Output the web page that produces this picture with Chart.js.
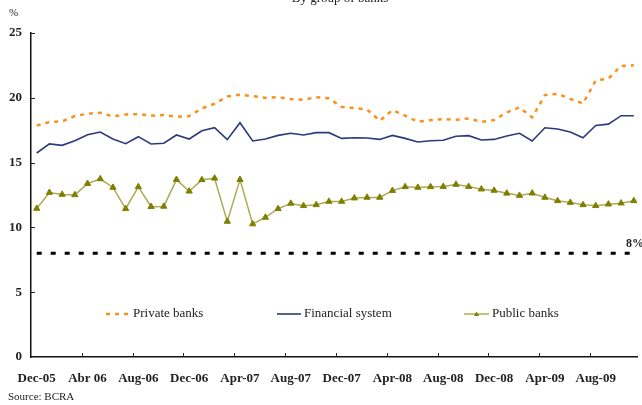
<!DOCTYPE html>
<html><head><meta charset="utf-8">
<script src="https://cdn.jsdelivr.net/npm/chart.js@4.4.1/dist/chart.umd.min.js"></script>
<style>html,body{margin:0;padding:0;background:#fff;overflow:hidden}#wrap{position:relative;width:642px;height:405px}</style>
</head><body><div id="wrap"><canvas id="c" width="642" height="405"></canvas></div>
<script>
// Monthly observations, Dec-05 .. Nov-09
const months = ['Dec-05','Jan-06','Feb-06','Mar-06','Apr-06','May-06','Jun-06','Jul-06','Aug-06','Sep-06','Oct-06','Nov-06',
  'Dec-06','Jan-07','Feb-07','Mar-07','Apr-07','May-07','Jun-07','Jul-07','Aug-07','Sep-07','Oct-07','Nov-07',
  'Dec-07','Jan-08','Feb-08','Mar-08','Apr-08','May-08','Jun-08','Jul-08','Aug-08','Sep-08','Oct-08','Nov-08',
  'Dec-08','Jan-09','Feb-09','Mar-09','Apr-09','May-09','Jun-09','Jul-09','Aug-09','Sep-09','Oct-09','Nov-09'];
const tickLabels = ['Dec-05','Abr 06','Aug-06','Dec-06','Apr-07','Aug-07','Dec-07','Apr-08','Aug-08','Dec-08','Apr-09','Aug-09'];
const tickIndex = [0,4,8,12,16,20,24,28,32,36,40,44];
const yTicks = [0,5,10,15,20,25];

const privateBanks = [17.85,18.13,18.18,18.59,18.77,18.85,18.56,18.72,18.74,18.62,18.67,18.54,
  18.59,19.18,19.54,20.10,20.23,20.13,20.00,20.05,19.90,19.85,20.05,19.95,
  19.30,19.20,19.10,18.23,19.05,18.62,18.15,18.28,18.36,18.30,18.41,18.15,
  18.28,18.87,19.26,18.49,20.21,20.31,19.92,19.56,21.33,21.49,22.46,22.51];
const financialSystem = [15.74,16.44,16.33,16.69,17.15,17.36,16.82,16.46,17.00,16.44,16.49,17.13,
  16.82,17.46,17.69,16.77,18.08,16.67,16.82,17.10,17.26,17.13,17.31,17.31,
  16.87,16.92,16.90,16.79,17.10,16.87,16.59,16.69,16.72,17.03,17.08,16.74,
  16.79,17.05,17.26,16.67,17.69,17.59,17.36,16.92,17.87,17.97,18.62,18.62];
const publicBanks = [11.46,12.69,12.54,12.51,13.38,13.74,13.08,11.44,13.13,11.60,11.62,13.69,
  12.79,13.67,13.79,10.46,13.69,10.26,10.77,11.44,11.85,11.67,11.74,12.00,
  12.00,12.26,12.31,12.31,12.84,13.13,13.08,13.13,13.15,13.31,13.15,12.95,
  12.85,12.63,12.46,12.64,12.31,12.05,11.92,11.74,11.67,11.79,11.87,12.05];
const minimumLevel = 8;

const SERIF = '"Liberation Serif", "Times New Roman", serif';
const pts = arr => arr.map((v,i)=>({x:i,y:v}));

const decor = {
  id:'decor',
  afterDraw(chart){
    const {ctx, chartArea:ca, scales:{x,y}} = chart;
    ctx.save();
    // inside tick marks
    ctx.strokeStyle='#222'; ctx.lineWidth=1;
    yTicks.forEach(v=>{ if(v===0) return; const py=Math.round(y.getPixelForValue(v))+0.5;
      ctx.beginPath(); ctx.moveTo(ca.left,py); ctx.lineTo(ca.left+4,py); ctx.stroke(); });
    tickIndex.forEach((v,k)=>{ if(k===0) return; const px=Math.round(x.getPixelForValue(v-0.45))+0.5;
      ctx.beginPath(); ctx.moveTo(px,ca.bottom); ctx.lineTo(px,ca.bottom-4); ctx.stroke(); });
    // texts
    ctx.fillStyle='#222';
    ctx.font='13px '+SERIF; ctx.textAlign='center'; ctx.textBaseline='alphabetic';
    ctx.fillText('By group of banks',340,2);
    ctx.textAlign='left'; ctx.textBaseline='middle';
    ctx.font='11px '+SERIF; ctx.fillText('%',9,13);
    ctx.font='bold 12px '+SERIF; ctx.fillText('8%',626,244);
    ctx.font='11px '+SERIF; ctx.fillText('Source: BCRA',8,397);
    // legend
    const ly=314;
    const ds=chart.data.datasets;
    const items=[{d:ds[0],x0:106,x1:128,tx:133},{d:ds[1],x0:277,x1:301,tx:304},{d:ds[2],x0:464,x1:489,tx:492}];
    items.forEach(it=>{
      ctx.save();
      ctx.strokeStyle=it.d.borderColor; ctx.lineWidth=it.d.borderWidth;
      ctx.setLineDash(it.d.borderDash||[]);
      ctx.beginPath(); ctx.moveTo(it.x0,ly); ctx.lineTo(it.x1,ly); ctx.stroke();
      ctx.restore();
      if(it.d.pointStyle==='triangle'){
        const cx=(it.x0+it.x1)/2, r=2.6;
        ctx.fillStyle=it.d.pointBackgroundColor;
        ctx.beginPath(); ctx.moveTo(cx,ly-r); ctx.lineTo(cx+r,ly+r*0.75); ctx.lineTo(cx-r,ly+r*0.75); ctx.closePath(); ctx.fill();
      }
      ctx.fillStyle='#222'; ctx.font='13px '+SERIF; ctx.textAlign='left'; ctx.textBaseline='middle';
      ctx.fillText(it.d.label,it.tx,ly);
    });
    ctx.restore();
  }
};

new Chart(document.getElementById('c'),{
  type:'line',
  data:{datasets:[
    {label:'Private banks',data:pts(privateBanks),borderColor:'#F7921E',borderWidth:2.5,borderDash:[4,5],pointRadius:0,tension:0},
    {label:'Financial system',data:pts(financialSystem),borderColor:'#2B3A7A',borderWidth:1.6,pointRadius:0,tension:0},
    {label:'Public banks',data:pts(publicBanks),borderColor:'#ABAB55',borderWidth:1.5,pointStyle:'triangle',pointRadius:3.6,
      pointBackgroundColor:'#7F7F00',pointBorderColor:'#7F7F00',pointBorderWidth:1,tension:0},
    {label:'8%',data:pts(months.map(()=>minimumLevel)),borderColor:'#000',borderWidth:3,borderDash:[5,9],pointRadius:0,tension:0}
  ]},
  options:{
    responsive:false, animation:false, devicePixelRatio:1,
    layout:{padding:{top:33,left:0,right:0,bottom:0}},
    plugins:{legend:{display:false},tooltip:{enabled:false},title:{display:false}},
    scales:{
      x:{type:'linear',min:-0.45,max:47.25,
        afterFit:s=>{s.height=48;},
        afterBuildTicks:s=>{s.ticks=tickIndex.map(v=>({value:v}));},
        grid:{display:true,drawOnChartArea:false,drawTicks:false},
        border:{display:true,color:'#111',width:1.5},
        ticks:{autoSkip:false,maxRotation:0,padding:14,color:'#222',font:{family:SERIF,size:13,weight:'bold'},
          callback:v=>tickLabels[tickIndex.indexOf(v)]}
      },
      y:{min:0,max:25,
        afterFit:s=>{s.width=31;},
        afterBuildTicks:s=>{s.ticks=yTicks.map(v=>({value:v}));},
        grid:{display:true,drawOnChartArea:false,drawTicks:false},
        border:{display:true,color:'#111',width:1.5},
        ticks:{padding:9,color:'#222',font:{family:SERIF,size:13,weight:'bold'}}
      }
    }
  },
  plugins:[decor]
});
</script></body></html>
